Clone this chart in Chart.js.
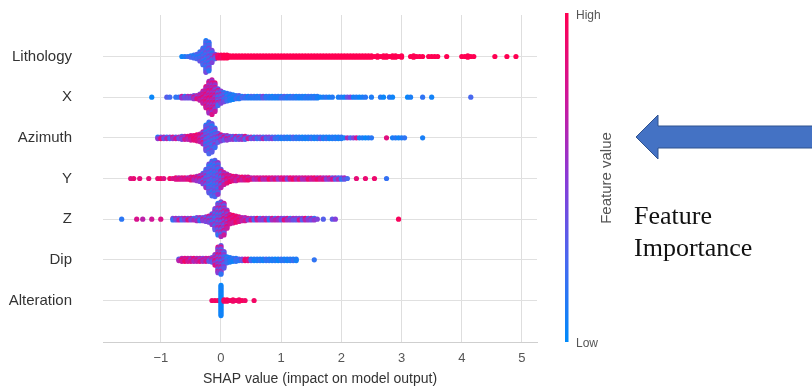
<!DOCTYPE html>
<html>
<head>
<meta charset="utf-8">
<script src="https://cdn.jsdelivr.net/npm/chart.js@4.4.1/dist/chart.umd.min.js"></script>
<style>
  html, body { margin: 0; padding: 0; background: #fff; }
  #wrap { position: relative; width: 812px; height: 389px; overflow: hidden; }
  #c { position: absolute; left: 0; top: 0; }
  #arrow { position: absolute; left: 0; top: 0; }
  #note {
    position: absolute; left: 634px; top: 200px;
    font-family: "Liberation Serif", "Times New Roman", serif;
    font-size: 26px; line-height: 32px; color: #111;
  }
</style>
</head>
<body>
<div id="wrap">
  <canvas id="c" width="812" height="389"></canvas>
  <svg id="arrow" width="812" height="389">
    <polygon points="636,137 658,115 658,126 814,126 814,148 658,148 658,159"
             fill="#4472C4" stroke="#2F528F" stroke-width="1"/>
  </svg>
  <div id="note">Feature<br>Importance</div>
</div>
<script>
// Features, top to bottom
const featureNames = ['Lithology', 'X', 'Azimuth', 'Y', 'Z', 'Dip', 'Alteration'];

// SHAP axis ticks
const xTickValues = [-1, 0, 1, 2, 3, 4, 5];
const xTickLabels = ['\u22121', '0', '1', '2', '3', '4', '5'];

// Every feature: SHAP histogram in bins of binWidth starting at *Start,
// number of samples per bin (*Counts) and mean normalised feature value per bin (*Values)
const binWidth = 0.05;

const lithologyStart = -0.65;
const lithologyCounts = [
  1,1,1,2,3,4,7,12,22,20,
  9,4,3,3,3,3,2,2,2,2,
  2,2,2,2,2,2,2,2,2,2,
  2,2,2,2,2,2,2,2,2,2,
  2,2,2,2,2,2,2,2,2,2,
  2,2,2,2,2,2,2,2,2,2,
  2,2,2,2,1,2,1,2,2,1,
  2,2,1,2,0,0,1,2,1,1,
  1,0,1,1,1,1,0,0,1,0,
  0,0,0,1,1,2,1,1,0,0,
  0,0,0,0,1,0,0,0,1,0,
  0,1];
const lithologyValues = [
  .15,.12,.15,.2,.18,.2,.22,.25,.25,.3,
  .35,.6,.9,.95,1,1,1,1,1,1,
  1,1,1,1,1,1,1,1,1,1,
  1,1,1,1,1,1,1,1,1,1,
  1,1,1,1,1,1,1,1,1,1,
  1,1,1,1,1,1,1,1,1,1,
  1,1,1,1,1,1,1,1,1,1,
  1,1,1,1,1,1,1,1,1,1,
  1,1,1,1,1,1,1,1,1,1,
  1,1,1,1,1,1,1,1,1,1,
  1,1,1,1,1,1,1,1,1,1,
  1,1];

const xStart = -1.15;
const xCounts = [
  1,0,0,0,0,1,1,0,1,1,
  2,2,2,2,3,3,5,9,15,22,
  24,20,12,9,7,6,5,4,3,3,
  2,2,2,2,2,2,2,2,2,2,
  2,2,2,2,2,2,2,2,2,2,
  2,2,2,2,2,2,1,1,1,1,
  1,0,1,1,1,1,1,1,1,1,
  1,1,0,1,0,0,1,1,0,1,
  1,0,0,0,0,1,1,0,0,0,
  1,0,0,1,0,0,0,0,0,0,
  0,0,0,0,0,0,1];
const xValues = [
  .1,.1,.1,.1,.1,.2,.35,.3,.5,.2,
  .6,.3,.6,.4,.55,.6,.7,.75,.75,.72,
  .7,.65,.5,.4,.3,.2,.15,.12,.15,.2,
  .15,.25,.1,.3,.15,.1,.2,.3,.1,.15,
  .1,.2,.1,.15,.3,.1,.1,.2,.1,.15,
  .1,.1,.2,.1,.1,.1,.1,.1,.1,.1,
  .1,.1,.1,.1,.1,.35,.3,.1,.1,.1,
  .1,.1,.1,.1,.1,.1,.1,.1,.1,.1,
  .1,.1,.1,.1,.1,.1,.1,.1,.1,.1,
  .1,.1,.1,.15,.1,.1,.1,.1,.1,.1,
  .1,.1,.1,.1,.1,.1,.15];

const azimuthStart = -1.05;
const azimuthCounts = [
  2,2,2,2,2,2,2,2,3,3,
  3,4,4,5,6,9,18,22,20,14,
  7,5,4,4,3,3,3,3,3,3,
  2,2,2,2,2,2,2,2,2,2,
  2,2,2,2,2,2,2,2,2,2,
  2,2,2,2,2,2,2,2,2,2,
  2,2,1,1,1,1,1,1,1,1,
  1,1,0,0,0,0,1,0,1,1,
  1,1,1,0,0,0,0,0,1];
const azimuthValues = [
  .45,.5,.45,.5,.5,.55,.5,.55,.6,.7,
  .8,.85,.88,.85,.75,.55,.35,.3,.3,.35,
  .45,.55,.55,.5,.6,.45,.55,.5,.4,.5,
  .45,.5,.4,.5,.35,.45,.4,.3,.3,.25,
  .15,.2,.15,.1,.15,.2,.1,.15,.1,.15,
  .1,.15,.1,.1,.2,.1,.15,.1,.1,.1,
  .1,.1,.1,.45,.5,.45,.5,.1,.1,.1,
  .1,.1,.1,.1,.1,.1,.8,.1,.1,.1,
  .1,.1,.1,.1,.1,.1,.1,.1,.15];

const yStart = -1.5;
const yCounts = [
  1,1,0,1,0,0,1,0,0,1,
  1,1,0,1,1,2,2,2,2,2,
  3,3,4,5,8,13,20,24,25,22,
  13,9,7,5,4,4,3,3,3,3,
  2,2,2,2,2,2,2,2,2,2,
  2,2,2,2,2,2,2,2,2,2,
  2,2,2,2,2,2,2,2,2,2,
  2,2,1,0,0,1,0,0,1,0,
  0,1,0,0,0,1];
const yValues = [
  .9,.9,.9,.9,.9,.9,.9,.9,.9,.9,
  .9,.88,.9,.85,.85,.85,.8,.85,.8,.75,
  .8,.75,.7,.65,.55,.4,.3,.28,.3,.35,
  .5,.65,.75,.8,.8,.8,.75,.8,.8,.75,
  .8,.75,.7,.8,.75,.6,.8,.75,.8,.7,
  .75,.8,.6,.75,.8,.7,.8,.75,.65,.8,
  .8,.75,.7,.8,.75,.65,.6,.55,.5,.55,
  .5,.45,.5,.9,.9,.9,.9,.9,.9,.9,
  .9,.9,.9,.9,.9,.5];

const zStart = -1.65;
const zCounts = [
  1,0,0,0,0,1,0,1,0,0,
  1,0,0,1,0,0,0,2,2,2,
  2,2,2,2,2,3,3,3,4,5,
  8,15,22,24,22,13,7,6,5,4,
  3,3,2,2,2,2,2,2,2,2,
  2,2,2,2,2,2,2,2,2,2,
  2,2,2,2,2,1,0,1,0,0,
  1,1,0,0,0,0,0,0,0,0,
  0,0,0,0,0,0,0,0,0,0,
  0,0,1];
const zValues = [
  .5,.5,.5,.5,.5,.55,.55,.6,.6,.6,
  .6,.55,.55,.55,.5,.5,.5,.5,.45,.55,
  .5,.45,.55,.6,.5,.5,.45,.55,.5,.5,
  .45,.4,.45,.5,.55,.65,.8,.85,.85,.8,
  .75,.7,.5,.6,.4,.7,.3,.55,.65,.35,
  .6,.45,.7,.3,.5,.65,.4,.6,.35,.55,
  .45,.6,.3,.5,.4,.45,.45,.45,.4,.4,
  .4,.35,.5,.5,.5,.5,.5,.5,.5,.5,
  .5,.5,.5,.5,.5,.5,.5,.5,.5,.5,
  .9,.9,.95];

const dipStart = -0.7;
const dipCounts = [
  2,3,3,3,3,3,3,3,3,3,
  3,4,8,18,20,12,5,4,3,3,
  2,2,2,2,2,2,2,2,2,2,
  2,2,2,2,2,2,2,2,2,2,
  0,0,0,0,0,1];
const dipValues = [
  .6,.7,.75,.8,.7,.75,.7,.65,.7,.75,
  .6,.6,.6,.55,.5,.35,.2,.15,.15,.2,
  .25,.3,.85,.85,.2,.15,.1,.12,.1,.15,
  .1,.12,.1,.1,.15,.1,.1,.1,.12,.1,
  .1,.1,.1,.1,.1,.1];

const alterationStart = -0.15;
const alterationCounts = [1,1,1,21,2,2,1,2,1,2,1,1,0,0,1];
const alterationValues = [.95,.95,.9,.05,.95,.95,.95,.95,.95,.95,.95,.95,.95,.95,.95];

const featureBins = [
  [lithologyStart, lithologyCounts, lithologyValues],
  [xStart, xCounts, xValues],
  [azimuthStart, azimuthCounts, azimuthValues],
  [yStart, yCounts, yValues],
  [zStart, zCounts, zValues],
  [dipStart, dipCounts, dipValues],
  [alterationStart, alterationCounts, alterationValues]
];

// red_blue colour map (low = blue, high = red)
const colorStops = [
  [0.00, [0, 138, 250]],
  [0.25, [72, 104, 240]],
  [0.50, [138, 58, 214]],
  [0.75, [208, 22, 152]],
  [1.00, [255, 0, 82]]
];
function colorAt(t) {
  t = Math.max(0, Math.min(1, t));
  for (let i = 1; i < colorStops.length; i++) {
    const [t1, c1] = colorStops[i];
    const [t0, c0] = colorStops[i - 1];
    if (t <= t1) {
      const u = (t - t0) / (t1 - t0);
      const c = c0.map((v, k) => Math.round(v + (c1[k] - v) * u));
      return `rgb(${c[0]},${c[1]},${c[2]})`;
    }
  }
  return 'rgb(255,0,82)';
}

// vertical spacing of stacked dots, in row units
const stackStep = 0.037;

// Beeswarm layout: the samples of a bin are stacked symmetrically around the row
function swarm(row, start, counts, values) {
  const pts = [], cols = [];
  counts.forEach((n, i) => {
    const x = +(start + i * binWidth).toFixed(3);
    const f = values[i];
    const spread = 0.7 * Math.min(f, 1 - f);
    for (let k = 0; k < n; k++) {
      const off = (k - (n - 1) / 2) * stackStep;
      const jitter = ((k * 0.618 + i * 0.377) % 1) * 2 - 1;
      pts.push({ x: x, y: row + off });
      cols.push(colorAt(f + spread * jitter));
    }
  });
  return { pts, cols };
}

const datasets = featureBins.map(([start, counts, values], row) => {
  const s = swarm(row, start, counts, values);
  return {
    label: featureNames[row],
    data: s.pts,
    pointBackgroundColor: s.cols,
    pointBorderWidth: 0,
    pointRadius: 2.6,
    pointHoverRadius: 2.6
  };
});

// Colour bar with its labels, to the right of the plot
const colorBar = {
  id: 'colorBar',
  afterDraw(chart) {
    const ctx = chart.ctx;
    const x = 565, top = 13, bottom = 342;
    ctx.save();
    const g = ctx.createLinearGradient(0, bottom, 0, top);
    colorStops.forEach(([t]) => g.addColorStop(t, colorAt(t)));
    ctx.fillStyle = g;
    ctx.fillRect(x, top, 3.5, bottom - top);
    ctx.fillStyle = '#555';
    ctx.font = '12px "Liberation Sans", Arial, sans-serif';
    ctx.textAlign = 'left';
    ctx.textBaseline = 'middle';
    ctx.fillText('High', 576, 16);
    ctx.fillText('Low', 576, 344);
    ctx.translate(607, 178);
    ctx.rotate(-Math.PI / 2);
    ctx.textAlign = 'center';
    ctx.font = '15px "Liberation Sans", Arial, sans-serif';
    ctx.fillText('Feature value', 0, 0);
    ctx.restore();
  }
};

Chart.defaults.font.family = '"Liberation Sans", Arial, sans-serif';

new Chart(document.getElementById('c'), {
  type: 'scatter',
  data: { datasets },
  plugins: [colorBar],
  options: {
    responsive: false,
    animation: false,
    devicePixelRatio: 1,
    layout: { padding: { top: 15, right: 275, left: 0, bottom: 0 } },
    plugins: { legend: { display: false }, tooltip: { enabled: false } },
    scales: {
      x: {
        type: 'linear',
        min: -1.96,
        max: 5.25,
        afterBuildTicks(scale) { scale.ticks = xTickValues.map(v => ({ value: v })); },
        afterFit(scale) { scale.height = 47; scale.paddingLeft = 0; scale.paddingRight = 0; },
        ticks: {
          callback: (v) => xTickLabels[xTickValues.indexOf(v)],
          font: { size: 13 },
          color: '#555',
          padding: 9,
          maxRotation: 0,
          autoSkip: false
        },
        grid: { color: '#dedede', drawTicks: false, lineWidth: 1 },
        border: { display: true, color: '#cfcfcf' },
        title: {
          display: true,
          text: 'SHAP value (impact on model output)',
          font: { size: 14 },
          color: '#333',
          padding: { top: 4, bottom: 1 }
        }
      },
      y: {
        type: 'linear',
        reverse: true,
        min: -1.02,
        max: 7.02,
        afterBuildTicks(scale) { scale.ticks = featureNames.map((_, i) => ({ value: i })); },
        afterFit(scale) { scale.width = 103; scale.paddingTop = 0; scale.paddingBottom = 0; },
        ticks: {
          callback: (v) => featureNames[v],
          font: { size: 15 },
          color: '#333',
          padding: 31,
          autoSkip: false
        },
        grid: { color: '#e0e0e0', drawTicks: false, lineWidth: 1 },
        border: { display: false }
      }
    }
  }
});
</script>
</body>
</html>
